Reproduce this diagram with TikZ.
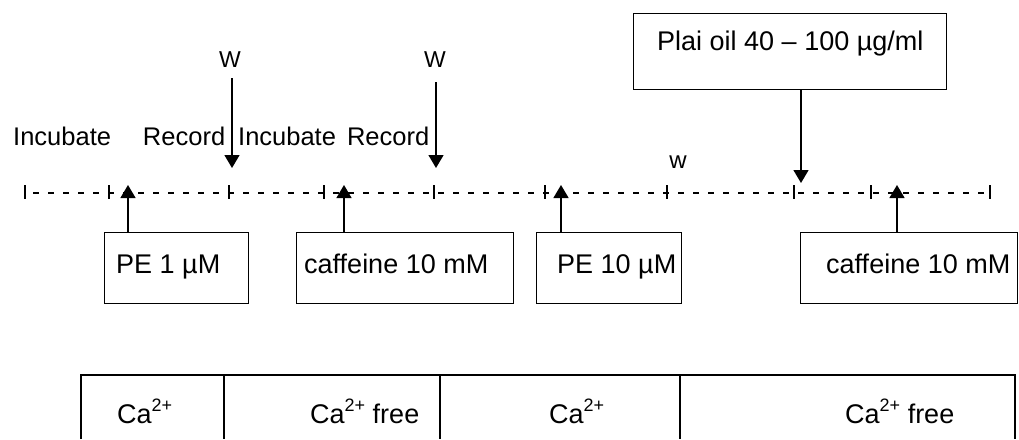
\documentclass[tikz,border=0pt]{standalone}
\usepackage{fontspec}
\setmainfont{Liberation Sans}
\usetikzlibrary{arrows.meta}
\newcommand{\capow}{\raisebox{12pt}{\fontsize{18}{18}\selectfont 2+}}
\begin{document}
\begin{tikzpicture}[x=1pt,y=-1pt,
  stepbox/.style={draw, line width=1.4pt, anchor=north west, inner sep=0pt},
  lbl/.style={anchor=base west, inner sep=0pt, font=\fontsize{27}{30}\selectfont},
  calbl/.style={anchor=base west, inner sep=0pt, font=\fontsize{27}{30}\selectfont},
  wlbl/.style={anchor=base, inner sep=0pt, font=\fontsize{23}{26}\selectfont},
  arr/.style={line width=1.4pt, -{Triangle[width=15pt,length=13pt]}},
  tickline/.style={line width=1.8pt},
  dashline/.style={line width=1.5pt, dash pattern=on 6pt off 9pt},
  tline/.style={line width=1.8pt}
]
\useasboundingbox (0,0) rectangle (1019,439);

% boxes
\node[stepbox, minimum width=144pt, minimum height=71pt] (pe1) at (104,232) {};
\node[stepbox, minimum width=217pt, minimum height=71pt] (caf1) at (296,232) {};
\node[stepbox, minimum width=145pt, minimum height=71pt] (pe10) at (536,232) {};
\node[stepbox, minimum width=217pt, minimum height=71pt] (caf2) at (800,232) {};
\node[stepbox, minimum width=313pt, minimum height=76pt] (plai) at (633,13) {};

% box texts
\node[lbl] (tpe1) at (116,273) {PE 1 µM};
\node[lbl] (tcaf1) at (304,273) {caffeine 10 mM};
\node[lbl] (tpe10) at (557,273) {PE 10 µM};
\node[lbl] (tcaf2) at (826,273) {caffeine 10 mM};
\node[lbl] (tplai) at (657,50) {Plai oil 40 – 100 µg/ml};

% incubate / record
\node[anchor=base west, inner sep=0pt, font=\fontsize{25.5}{30}\selectfont] (tinc) at (13,145)
  {Incubate\hspace{32pt}Record\hspace{13pt}Incubate\hspace{11pt}Record};

% W labels
\node[wlbl] (w1) at (230,67) {W};
\node[wlbl] (w2) at (435,67) {W};
\node[wlbl, font=\fontsize{24}{28}\selectfont] (w3) at (678,168) {w};

% time line
\foreach \i/\x in {0/25,1/109,2/229,3/324,4/434,5/545,6/667,7/794,8/871,9/990}{
  \coordinate (t\i) at (\x,193);
  \draw[tickline] (t\i) ++(0,-8) -- ++(0,14);
}
\draw[dashline] ([xshift=8pt]t0) -- (t9);

% arrow tips
\coordinate (u1) at (128,185);
\coordinate (u2) at (344,185);
\coordinate (u3) at (561,185);
\coordinate (u4) at (897,185);
\coordinate (d1) at (232,168);
\coordinate (d2) at (436,168);
\coordinate (d3) at (801,183);

\draw[arr] (u1 |- pe1.north) -- (u1);
\draw[arr] (u2 |- caf1.north) -- (u2);
\draw[arr] (u3 |- pe10.north) -- (u3);
\draw[arr] (u4 |- caf2.north) -- (u4);
\draw[arr, shorten <=11pt] (d1 |- w1.base) -- (d1);
\draw[arr, shorten <=15pt] (d2 |- w2.base) -- (d2);
\draw[arr] (d3 |- plai.south) -- (d3);

% bottom table
\draw[tline] (81,439) |- (1015,375) -- (1015,439);
\draw[tline] (224,375) -- (224,439);
\draw[tline] (440,375) -- (440,439);
\draw[tline] (680,375) -- (680,439);

\node[calbl] (c1) at (117,423) {Ca\capow};
\node[calbl] (c2) at (310,423) {Ca\capow{} free};
\node[calbl] (c3) at (549,423) {Ca\capow};
\node[calbl] (c4) at (845,423) {Ca\capow{} free};
\end{tikzpicture}
\end{document}
